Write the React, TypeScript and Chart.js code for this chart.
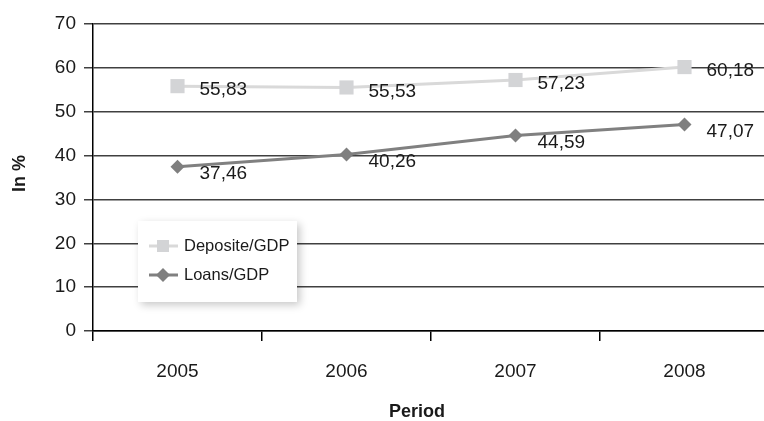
import React, { useEffect, useRef } from 'react';
import { Chart, registerables } from 'chart.js';

Chart.register(...registerables);

const categories = ['2005', '2006', '2007', '2008'];
const depositValues = [55.83, 55.53, 57.23, 60.18];
const loanValues = [37.46, 40.26, 44.59, 47.07];
const seriesNames = ['Deposite/GDP', 'Loans/GDP'];
const yMin = 0;
const yMax = 70;
const yStep = 10;
const yTitle = 'In %';
const xTitle = 'Period';

const FONT = "'Liberation Sans', Arial, sans-serif";
const TEXT = '#1a1a1a';
const DEP_LINE = '#d9d9d9';
const DEP_MARK = '#d3d4d6';
const LOAN_LINE = '#808080';
const LOAN_MARK = '#7f7f7f';

function drawSquare(ctx: CanvasRenderingContext2D, x: number, y: number, s: number, c: string) {
  ctx.fillStyle = c;
  ctx.fillRect(x - s / 2, y - s / 2, s, s);
}
function drawDiamond(ctx: CanvasRenderingContext2D, x: number, y: number, r: number, c: string) {
  ctx.fillStyle = c;
  ctx.beginPath();
  ctx.moveTo(x, y - r);
  ctx.lineTo(x + r, y);
  ctx.lineTo(x, y + r);
  ctx.lineTo(x - r, y);
  ctx.closePath();
  ctx.fill();
}

const overlayPlugin = {
  id: 'overlay',
  afterDatasetsDraw(chart: any) {
    const ctx: CanvasRenderingContext2D = chart.ctx;
    const area = chart.chartArea;
    const dys = [4, 7];
    // data labels
    chart.data.datasets.forEach((ds: any, di: number) => {
      const meta = chart.getDatasetMeta(di);
      meta.data.forEach((pt: any, i: number) => {
        const v = ds.data[i] as number;
        ctx.save();
        ctx.font = `19px ${FONT}`;
        ctx.fillStyle = TEXT;
        ctx.textAlign = 'left';
        ctx.textBaseline = 'middle';
        ctx.fillText(v.toFixed(2).replace('.', ','), pt.x + 22, pt.y + dys[di]);
        ctx.restore();
      });
    });
    // legend box
    const bx = area.left + 45;
    const by = area.top + 197;
    const bw = 159;
    const bh = 81;
    ctx.save();
    ctx.shadowColor = 'rgba(0,0,0,0.22)';
    ctx.shadowBlur = 8;
    ctx.shadowOffsetX = 3;
    ctx.shadowOffsetY = 3;
    ctx.fillStyle = '#ffffff';
    ctx.fillRect(bx, by, bw, bh);
    ctx.restore();
    const rows = [by + 25, by + 54];
    ctx.save();
    chart.data.datasets.forEach((ds: any, di: number) => {
      const ry = rows[di];
      ctx.strokeStyle = ds.borderColor;
      ctx.lineWidth = 3;
      ctx.beginPath();
      ctx.moveTo(bx + 11, ry);
      ctx.lineTo(bx + 40, ry);
      ctx.stroke();
      if (di === 0) drawSquare(ctx, bx + 25, ry, 12, DEP_MARK);
      else drawDiamond(ctx, bx + 25, ry, 7, LOAN_MARK);
      ctx.font = `16.5px ${FONT}`;
      ctx.fillStyle = TEXT;
      ctx.textAlign = 'left';
      ctx.textBaseline = 'middle';
      ctx.fillText(ds.label, bx + 46, ry);
    });
    ctx.restore();
    // axis titles
    ctx.save();
    ctx.font = `bold 18px ${FONT}`;
    ctx.fillStyle = TEXT;
    ctx.textAlign = 'center';
    ctx.textBaseline = 'middle';
    ctx.fillText(xTitle, 417, 412);
    ctx.translate(20, (area.top + area.bottom) / 2 - 4);
    ctx.rotate(-Math.PI / 2);
    ctx.fillText(yTitle, 0, 0);
    ctx.restore();
  },
};

export default function App() {
  const ref = useRef<HTMLCanvasElement | null>(null);
  useEffect(() => {
    document.body.style.margin = '0';
    if (!ref.current) return;
    const chart = new Chart(ref.current, {
      type: 'line',
      data: {
        labels: categories,
        datasets: [
          {
            label: seriesNames[0],
            data: depositValues,
            borderColor: DEP_LINE,
            backgroundColor: DEP_MARK,
            pointBackgroundColor: DEP_MARK,
            pointBorderWidth: 0,
            pointStyle: 'rect',
            pointRadius: 10,
            borderWidth: 3,
            tension: 0,
          },
          {
            label: seriesNames[1],
            data: loanValues,
            borderColor: LOAN_LINE,
            backgroundColor: LOAN_MARK,
            pointBackgroundColor: LOAN_MARK,
            pointBorderWidth: 0,
            pointStyle: 'rectRot',
            pointRadius: 7,
            borderWidth: 3,
            tension: 0,
          },
        ],
      },
      options: {
        animation: false,
        responsive: true,
        maintainAspectRatio: false,
        layout: { padding: { top: 24, right: 1, left: 0, bottom: 0 } },
        plugins: {
          legend: { display: false },
          tooltip: { enabled: false },
        },
        scales: {
          x: {
            type: 'category',
            offset: true,
            grid: {
              offset: true,
              drawOnChartArea: false,
              drawTicks: true,
              tickLength: 10,
              color: '#000000',
              lineWidth: 1.5,
            },
            border: { color: '#000000', width: 1.5 },
            ticks: { font: { family: FONT, size: 19 }, color: TEXT, padding: 19 },
            afterFit: (scale: any) => {
              scale.height = 90;
            },
          },
          y: {
            min: yMin,
            max: yMax,
            ticks: { stepSize: yStep, font: { family: FONT, size: 19 }, color: TEXT, padding: 8 },
            grid: { color: '#404040', lineWidth: 1.5, tickLength: 9, drawTicks: true },
            border: { color: '#000000', width: 1.5 },
            afterFit: (scale: any) => {
              scale.width = 93;
            },
          },
        },
      },
      plugins: [overlayPlugin],
    });
    return () => chart.destroy();
  }, []);
  return (
    <div style={{ position: 'fixed', left: 0, top: 0, width: 764, height: 421, overflow: 'hidden', background: '#fff' }}>
      <div style={{ position: 'relative', width: 779, height: 421 }}>
        <canvas ref={ref} />
      </div>
    </div>
  );
}
